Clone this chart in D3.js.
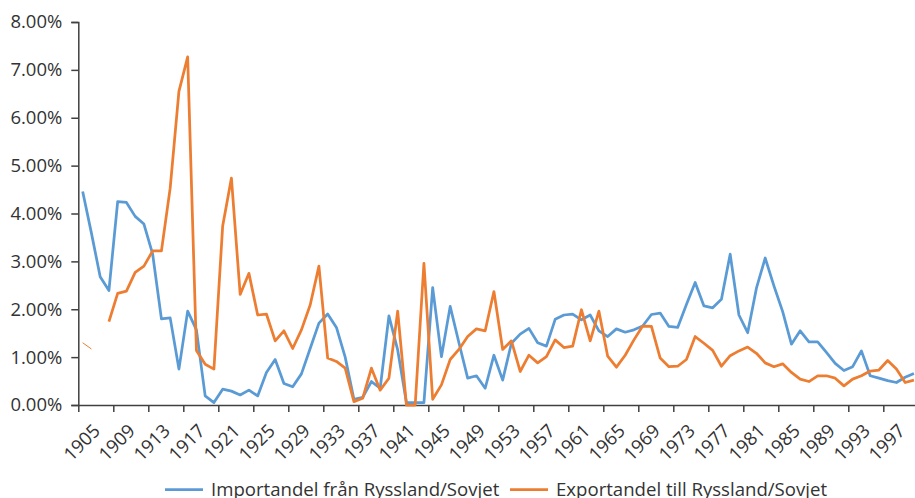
<!DOCTYPE html>
<html>
<head>
<meta charset="utf-8">
<script src="https://cdn.jsdelivr.net/npm/d3@7"></script>
<style>
  body { margin: 0; background: #fff; }
  svg { display: block; font-family: "Open Sans", sans-serif; }
</style>
</head>
<body>
<svg id="chart" width="915" height="498"></svg>
<script>
// years 1905..2000
var years = d3.range(1905, 2001);

// import share from Russia/Soviet Union (%)
var importShare = [
  4.46, 3.59, 2.68, 2.39, 4.25, 4.23, 3.94, 3.78, 3.15, 1.80,
  1.82, 0.75, 1.96, 1.57, 0.19, 0.05, 0.33, 0.29, 0.21, 0.31,
  0.19, 0.68, 0.95, 0.45, 0.38, 0.65, 1.18, 1.71, 1.90, 1.62,
  1.00, 0.12, 0.16, 0.49, 0.35, 1.86, 1.15, 0.05, 0.05, 0.05,
  2.45, 1.01, 2.06, 1.30, 0.56, 0.61, 0.35, 1.04, 0.52, 1.29,
  1.48, 1.60, 1.30, 1.23, 1.79, 1.88, 1.90, 1.78, 1.88, 1.55,
  1.43, 1.59, 1.52, 1.57, 1.65, 1.89, 1.92, 1.64, 1.62, 2.10,
  2.56, 2.07, 2.03, 2.21, 3.15, 1.88, 1.51, 2.44, 3.07, 2.49,
  1.95, 1.27, 1.55, 1.32, 1.32, 1.10, 0.87, 0.72, 0.80, 1.13,
  0.61, 0.56, 0.51, 0.47, 0.58, 0.66
];

// export share to Russia/Soviet Union (%), 1907 missing
var exportShare = [
  1.30, 1.17, null, 1.74, 2.33, 2.38, 2.77, 2.90, 3.22, 3.22,
  4.53, 6.55, 7.27, 1.14, 0.85, 0.75, 3.74, 4.74, 2.31, 2.75,
  1.88, 1.90, 1.34, 1.55, 1.18, 1.57, 2.09, 2.90, 0.98, 0.91,
  0.77, 0.07, 0.14, 0.77, 0.31, 0.56, 1.96, 0.00, 0.00, 2.96,
  0.12, 0.42, 0.95, 1.16, 1.43, 1.59, 1.55, 2.37, 1.16, 1.34,
  0.70, 1.04, 0.88, 1.01, 1.36, 1.20, 1.23, 1.99, 1.34, 1.96,
  1.02, 0.79, 1.04, 1.36, 1.65, 1.64, 0.98, 0.80, 0.81, 0.95,
  1.43, 1.29, 1.14, 0.81, 1.03, 1.13, 1.21, 1.08, 0.88, 0.80,
  0.86, 0.68, 0.54, 0.49, 0.61, 0.61, 0.56, 0.40, 0.54, 0.61,
  0.71, 0.73, 0.93, 0.75, 0.47, 0.52
];

var yTicks = [0, 1, 2, 3, 4, 5, 6, 7, 8];
var xLabelYears = d3.range(1905, 2001, 4);
var seriesNames = ["Importandel från Ryssland/Sovjet", "Exportandel till Ryssland/Sovjet"];
var colors = ["#5b9bd5", "#ed7d31"];

var svg = d3.select("#chart");
var plotLeft = 78.3, plotTop = 22, plotBottom = 405, step = 8.75;

var x = d3.scaleLinear()
  .domain([1904.5, 1904.5 + years.length])
  .range([plotLeft, plotLeft + years.length * step]);
var y = d3.scaleLinear().domain([0, 8]).range([plotBottom, plotTop]);

var textColor = "#333";
var axisColor = "#404040";

// y axis
var yAxis = svg.append("g")
  .attr("transform", "translate(" + plotLeft + ",0)")
  .call(d3.axisLeft(y).tickValues(yTicks).tickSize(7).tickPadding(9)
    .tickFormat(function(d) { return d3.format(".2f")(d) + "%"; }));
yAxis.select(".domain").attr("stroke", axisColor).attr("stroke-width", 1.5);
yAxis.selectAll(".tick line").attr("stroke", axisColor).attr("stroke-width", 1.5);
yAxis.selectAll("text").attr("fill", textColor)
  .style("font-size", "18.5px").style("font-family", "Open Sans");

// x axis (ticks between categories)
var xAxis = svg.append("g")
  .attr("transform", "translate(0," + plotBottom + ")")
  .call(d3.axisBottom(x).tickValues(xLabelYears.map(function(d) { return d - 0.5; }))
    .tickSize(7).tickSizeOuter(0).tickFormat(""));
xAxis.select(".domain").attr("stroke", axisColor).attr("stroke-width", 1.5);
xAxis.selectAll(".tick line").attr("stroke", axisColor).attr("stroke-width", 1.5);

svg.append("g").selectAll("text")
  .data(xLabelYears)
  .enter().append("text")
  .attr("transform", function(d) {
    return "translate(" + (x(d - 0.5) + 23) + "," + (plotBottom + 27) + ") rotate(-45)";
  })
  .attr("text-anchor", "end")
  .attr("fill", textColor)
  .style("font-size", "18.5px")
  .text(function(d) { return d; });

// lines, drawn per contiguous run of values
function runs(values) {
  var out = [], cur = [];
  values.forEach(function(v, i) {
    if (v == null) { if (cur.length) out.push(cur); cur = []; }
    else cur.push({ year: years[i], v: v });
  });
  if (cur.length) out.push(cur);
  return out;
}

var line = d3.line()
  .x(function(d) { return x(d.year); })
  .y(function(d) { return y(d.v); });

[importShare, exportShare].forEach(function(values, k) {
  svg.append("g").selectAll("path")
    .data(runs(values))
    .enter().append("path")
    .attr("d", line)
    .attr("fill", "none")
    .attr("stroke", colors[k])
    .attr("stroke-width", function(r) { return r.length > 2 ? 2.75 : 1; })
    .attr("stroke-linejoin", "round");
});

// legend
var legendItems = [
  { name: seriesNames[0], color: colors[0], x1: 165, x2: 203, tx: 211 },
  { name: seriesNames[1], color: colors[1], x1: 510, x2: 548, tx: 556 }
];
var legend = svg.append("g");
legendItems.forEach(function(d) {
  legend.append("line")
    .attr("x1", d.x1).attr("x2", d.x2)
    .attr("y1", 489.5).attr("y2", 489.5)
    .attr("stroke", d.color).attr("stroke-width", 2.75);
  legend.append("text")
    .attr("x", d.tx).attr("y", 496)
    .attr("fill", textColor)
    .style("font-size", "18.6px")
    .text(d.name);
});
</script>
</body>
</html>
